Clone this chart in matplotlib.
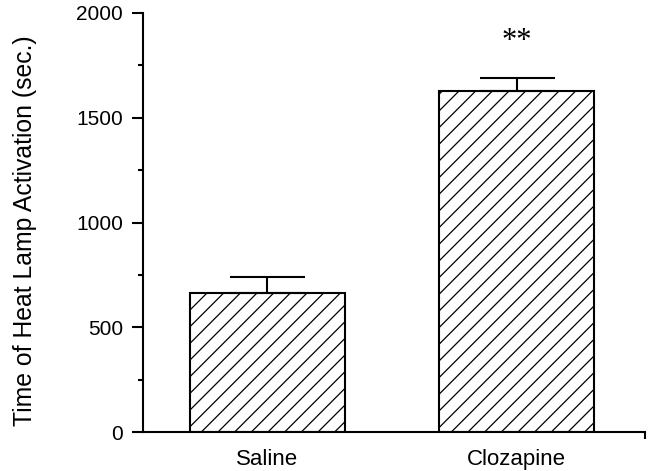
import matplotlib
matplotlib.use("Agg")
import matplotlib.pyplot as plt

categories = ["Saline", "Clozapine"]
means = [665, 1627]
sem = [76, 64]
yticks = [0, 500, 1000, 1500, 2000]
significance = ["", "**"]

plt.rcParams['font.family'] = ['Liberation Sans', 'DejaVu Sans']
plt.rcParams['hatch.linewidth'] = 0.9

fig = plt.figure(figsize=(6.52, 4.71), dpi=100)
ax = fig.add_axes([0.2193, 0.0828, 0.9893 - 0.2193, 0.9724 - 0.0828])

x = list(range(len(categories)))
ax.bar(x, means, width=0.622, color="white", edgecolor="black",
       linewidth=1.5, hatch="//", zorder=2)
ax.errorbar(x, means, yerr=[[0] * len(sem), sem], fmt="none", ecolor="black",
            elinewidth=1.5, capsize=27, capthick=1.5, zorder=3)

for xi, m, s, lab in zip(x, means, sem, significance):
    if lab:
        ax.text(xi, 1865, lab, ha="center", va="center", fontsize=22,
                family=["Liberation Serif"])

ax.set_xlim(-0.5, 1.516)
ax.set_ylim(0, 2000)
ax.set_yticks(yticks)
ax.set_yticks(range(250, 2000, 500), minor=True)
ax.set_xticks(x)
ax.set_xticklabels(categories, fontsize=16)
ax.set_xticks([1.516], minor=True)
ax.tick_params(axis="x", which="major", length=0, pad=12)
ax.tick_params(axis="x", which="minor", length=5, width=1.5, direction="out")
ax.tick_params(axis="y", which="major", length=8, width=1.5, labelsize=15, pad=6.5)
ax.tick_params(axis="y", which="minor", length=3.6, width=1.5)

for side in ["top", "right"]:
    ax.spines[side].set_visible(False)
for side in ["left", "bottom"]:
    ax.spines[side].set_linewidth(1.5)

ax.set_ylabel("Time of Heat Lamp Activation (sec.)", fontsize=17.8)
ax.yaxis.set_label_coords(-0.211, 0.481)

fig.savefig("out.png", dpi=100)
